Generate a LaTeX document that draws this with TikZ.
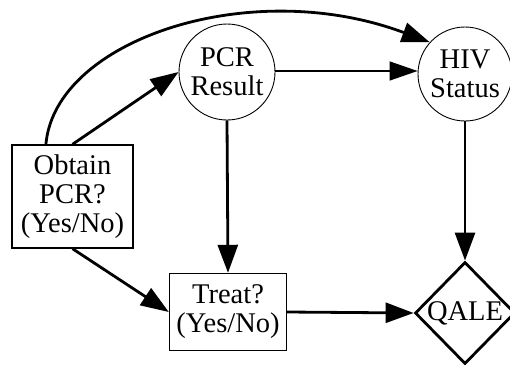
\documentclass[tikz,border=0pt]{standalone}
\usepackage{fontspec}
\setmainfont{Liberation Serif}
\usetikzlibrary{arrows.meta,shapes.geometric}
\begin{document}
\begin{tikzpicture}[x=1pt,y=-1pt,
  lbl/.style={font=\fontsize{28.5}{29}\selectfont, align=center, inner sep=0pt},
  box/.style={lbl, draw, line width=1.4pt, rectangle},
  chance/.style={lbl, draw, line width=0.9pt, circle},
  value/.style={lbl, draw, line width=2.8pt, diamond, shape aspect=1},
  link/.style={line width=2.8pt, -{Triangle[length=28pt,width=20pt]}},
  thinlink/.style={line width=1.4pt, -{Triangle[length=28pt,width=19pt]}}]
  \useasboundingbox (0,0) rectangle (510,364);

  % decision, chance and value nodes
  \node[box, minimum width=121pt, minimum height=103pt] (obtain) at (72.5,196.5) {Obtain\\PCR?\\(Yes/No)};
  \node[chance, minimum size=96pt] (pcr) at (227,72) {PCR\\Result};
  \node[chance, minimum size=94pt] (hiv) at (465,74) {HIV\\Status};
  \node[box, minimum width=117pt, minimum height=77pt] (treat) at (228,312) {Treat?\\(Yes/No)};
  \node[value, minimum width=100pt, minimum height=102pt] (qale) at (465,313) {QALE};

  % influence arcs
  \draw[link] (obtain.north) -- (pcr.west);
  \draw[link] (obtain.117) .. controls (55,40) and (250,-25) .. (hiv.138);
  \draw[thinlink] (pcr.east |- 0,71) -- (hiv.west |- 0,71);
  \draw[link] (pcr.south) -- (treat.north);
  \draw[link] (hiv.south) -- (qale.north);
  \draw[link] (obtain.south) -- (treat.west);
  \draw[link] (treat.east) -- (qale.west);
\end{tikzpicture}
\end{document}
